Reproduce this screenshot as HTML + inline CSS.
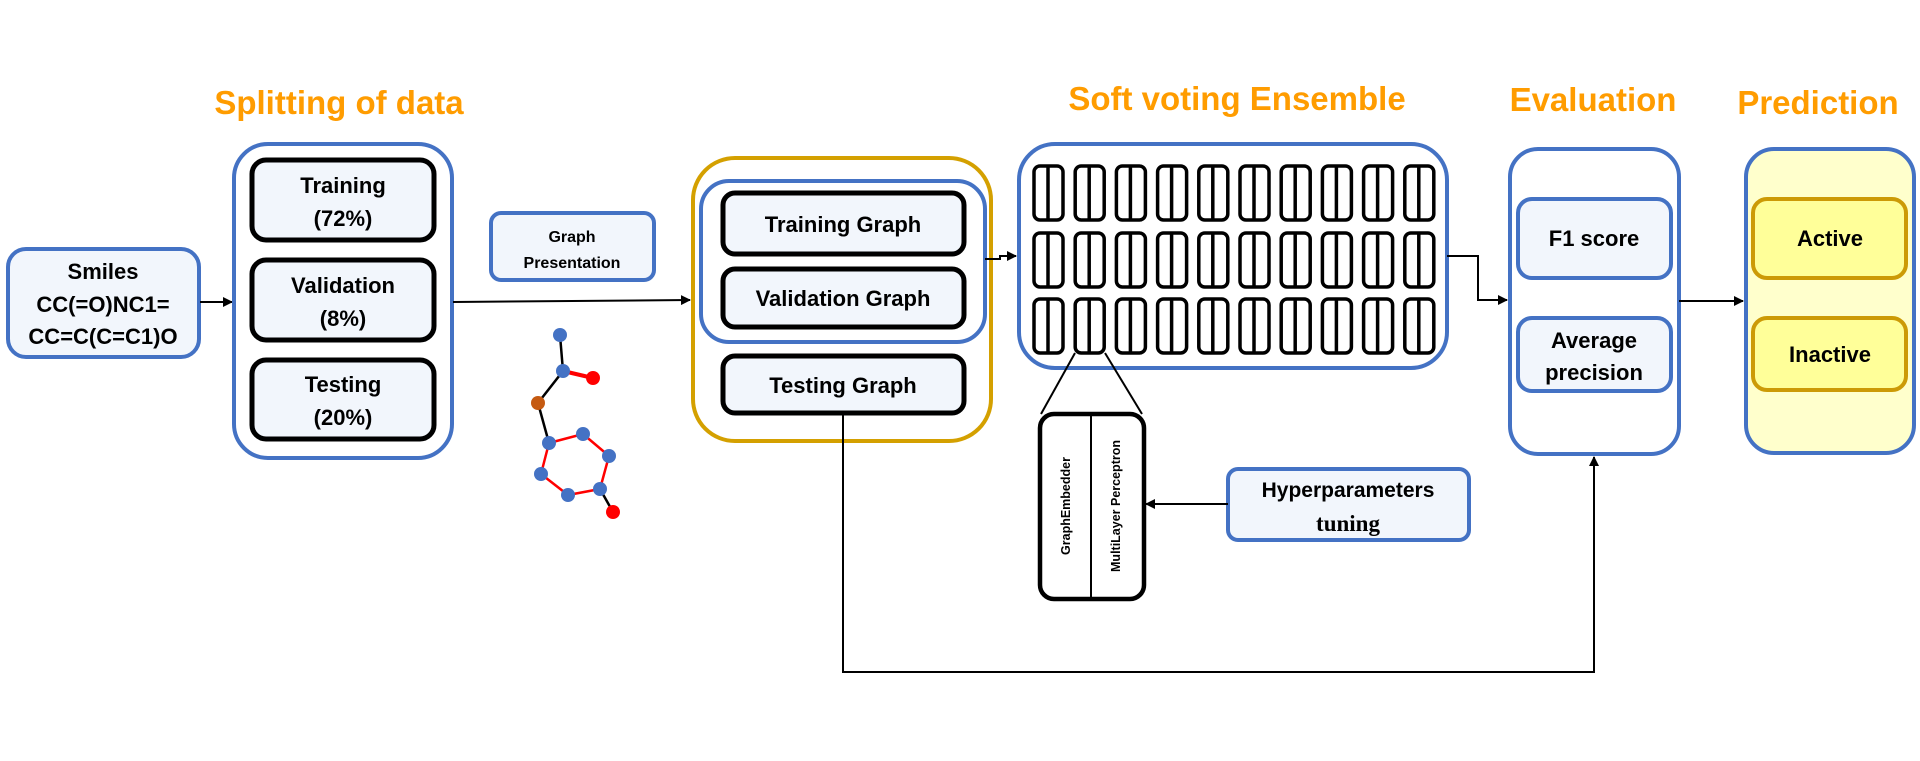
<!DOCTYPE html>
<html><head><meta charset="utf-8"><style>
html,body{margin:0;padding:0;background:#fff;}
svg{display:block;}
text{font-family:"Liberation Sans",sans-serif;font-weight:bold;}
</style></head><body>
<svg width="1920" height="761" viewBox="0 0 1920 761" xmlns="http://www.w3.org/2000/svg">
<defs>
<marker id="ah" markerWidth="10" markerHeight="10" refX="9" refY="5" orient="auto" markerUnits="userSpaceOnUse">
<path d="M0,0 L10,5 L0,10 z" fill="#000"/></marker>
</defs>
<rect width="1920" height="761" fill="#fff"/>

<!-- headings -->
<g fill="#ff9c00" font-size="33" text-anchor="middle">
<text x="339" y="114">Splitting of data</text>
<text x="1237" y="110">Soft voting Ensemble</text>
<text x="1593" y="111">Evaluation</text>
<text x="1818" y="114">Prediction</text>
</g>

<!-- Smiles -->
<rect x="8" y="249" width="191" height="108" rx="18" fill="#f2f6fc" stroke="#4472c4" stroke-width="4"/>
<g font-size="22" text-anchor="middle" fill="#000">
<text x="103" y="279">Smiles</text>
<text x="103" y="312">CC(=O)NC1=</text>
<text x="103" y="344">CC=C(C=C1)O</text>
</g>
<line x1="200" y1="302" x2="232" y2="302" stroke="#000" stroke-width="2" marker-end="url(#ah)"/>

<!-- Split -->
<rect x="234" y="144" width="218" height="314" rx="34" fill="#fff" stroke="#4472c4" stroke-width="4"/>
<g fill="#f2f6fc" stroke="#000" stroke-width="5">
<rect x="252" y="160" width="182" height="80" rx="14"/>
<rect x="252" y="260" width="182" height="80" rx="14"/>
<rect x="252" y="360" width="182" height="79" rx="14"/>
</g>
<g font-size="22" text-anchor="middle" fill="#000">
<text x="343" y="193">Training</text><text x="343" y="226">(72%)</text>
<text x="343" y="293">Validation</text><text x="343" y="326">(8%)</text>
<text x="343" y="392">Testing</text><text x="343" y="425">(20%)</text>
</g>

<!-- Graph presentation -->
<rect x="491" y="213" width="163" height="67" rx="10" fill="#f2f6fc" stroke="#4472c4" stroke-width="4"/>
<g font-size="16" text-anchor="middle" fill="#000">
<text x="572" y="242">Graph</text><text x="572" y="268">Presentation</text>
</g>
<line x1="453" y1="302" x2="690" y2="300" stroke="#000" stroke-width="2" marker-end="url(#ah)"/>

<!-- molecule -->
<g stroke-width="2.5">
<line x1="560" y1="335" x2="563" y2="371" stroke="#000"/>
<line x1="563" y1="371" x2="593" y2="378" stroke="#f00" stroke-width="4"/>
<line x1="563" y1="371" x2="538" y2="403" stroke="#000"/>
<line x1="538" y1="403" x2="549" y2="443" stroke="#000"/>
<line x1="600" y1="489" x2="613" y2="512" stroke="#000"/>
<polyline points="549,443 583,434 609,456 600,489 568,495 541,474 549,443" fill="none" stroke="#f00"/>
</g>
<g fill="#4472c4">
<circle cx="560" cy="335" r="7"/><circle cx="563" cy="371" r="7"/><circle cx="549" cy="443" r="7"/>
<circle cx="583" cy="434" r="7"/><circle cx="609" cy="456" r="7"/><circle cx="600" cy="489" r="7"/>
<circle cx="568" cy="495" r="7"/><circle cx="541" cy="474" r="7"/>
</g>
<circle cx="593" cy="378" r="7" fill="#f00"/><circle cx="613" cy="512" r="7" fill="#f00"/>
<circle cx="538" cy="403" r="7" fill="#c55a11"/>

<!-- gold group -->
<rect x="693" y="158" width="298" height="283" rx="42" fill="#fff" stroke="#d4a000" stroke-width="4"/>
<rect x="701" y="181" width="284" height="161" rx="28" fill="#fff" stroke="#4472c4" stroke-width="4"/>
<g fill="#f2f6fc" stroke="#000" stroke-width="5">
<rect x="723" y="193" width="241" height="61" rx="12"/>
<rect x="723" y="269" width="241" height="58" rx="12"/>
<rect x="723" y="356" width="241" height="57" rx="12"/>
</g>
<g font-size="22" text-anchor="middle" fill="#000">
<text x="843" y="232">Training Graph</text>
<text x="843" y="306">Validation Graph</text>
<text x="843" y="393">Testing Graph</text>
</g>
<polyline points="985,259 1000,259 1000,256 1016,256" fill="none" stroke="#000" stroke-width="2" marker-end="url(#ah)"/>

<!-- ensemble -->
<rect x="1019" y="144" width="428" height="224" rx="36" fill="#fff" stroke="#4472c4" stroke-width="4"/>
<g fill="none" stroke="#000" stroke-width="3.5">
<g id="row">
<g id="c"><rect x="1034" y="166" width="29" height="54" rx="6"/><line x1="1048" y1="166" x2="1048" y2="220"/></g>
<use href="#c" x="41.2"/><use href="#c" x="82.4"/><use href="#c" x="123.6"/><use href="#c" x="164.8"/>
<use href="#c" x="206"/><use href="#c" x="247.2"/><use href="#c" x="288.4"/><use href="#c" x="329.6"/><use href="#c" x="370.8"/>
</g>
<use href="#row" y="67"/>
<use href="#row" y="133"/>
</g>
<line x1="1075" y1="353" x2="1041" y2="414" stroke="#000" stroke-width="2"/>
<line x1="1105" y1="353" x2="1142" y2="414" stroke="#000" stroke-width="2"/>

<!-- MLP box -->
<rect x="1040" y="414" width="104" height="185" rx="14" fill="#fff" stroke="#000" stroke-width="4.5"/>
<line x1="1091" y1="414" x2="1091" y2="599" stroke="#000" stroke-width="2"/>
<g font-family="DejaVu Sans" font-size="12.5" text-anchor="middle" fill="#000" style="font-family:'DejaVu Sans',sans-serif">
<text transform="translate(1070,506) rotate(-90)">GraphEmbedder</text>
<text transform="translate(1120,506) rotate(-90)">MultiLayer Perceptron</text>
</g>

<!-- hyperparameters -->
<rect x="1228" y="469" width="241" height="71" rx="10" fill="#f2f6fc" stroke="#4472c4" stroke-width="4"/>
<text x="1348" y="497" font-size="21" text-anchor="middle">Hyperparameters</text>
<text x="1348" y="531" font-size="23" text-anchor="middle" style="font-family:'Liberation Serif',serif">tuning</text>
<line x1="1228" y1="504" x2="1146" y2="504" stroke="#000" stroke-width="2" marker-end="url(#ah)"/>

<!-- testing path -->
<polyline points="843,414 843,672 1594,672 1594,457" fill="none" stroke="#000" stroke-width="2" marker-end="url(#ah)"/>

<!-- ensemble->eval -->
<polyline points="1447,256 1478,256 1478,300 1507,300" fill="none" stroke="#000" stroke-width="2" marker-end="url(#ah)"/>

<!-- evaluation -->
<rect x="1510" y="149" width="169" height="305" rx="28" fill="#fff" stroke="#4472c4" stroke-width="4"/>
<rect x="1518" y="199" width="153" height="79" rx="14" fill="#f2f6fc" stroke="#4472c4" stroke-width="4"/>
<rect x="1518" y="318" width="153" height="73" rx="14" fill="#f2f6fc" stroke="#4472c4" stroke-width="4"/>
<g font-size="22" text-anchor="middle" fill="#000">
<text x="1594" y="246">F1 score</text>
<text x="1594" y="348">Average</text><text x="1594" y="380">precision</text>
</g>
<line x1="1679" y1="301" x2="1743" y2="301" stroke="#000" stroke-width="2" marker-end="url(#ah)"/>

<!-- prediction -->
<rect x="1746" y="149" width="168" height="304" rx="28" fill="#ffffcc" stroke="#4472c4" stroke-width="4"/>
<rect x="1753" y="199" width="153" height="79" rx="14" fill="#ffff99" stroke="#cc9a06" stroke-width="4"/>
<rect x="1753" y="318" width="153" height="72" rx="14" fill="#ffff99" stroke="#cc9a06" stroke-width="4"/>
<g font-size="22" text-anchor="middle" fill="#000">
<text x="1830" y="246">Active</text>
<text x="1830" y="362">Inactive</text>
</g>
</svg>
</body></html>
